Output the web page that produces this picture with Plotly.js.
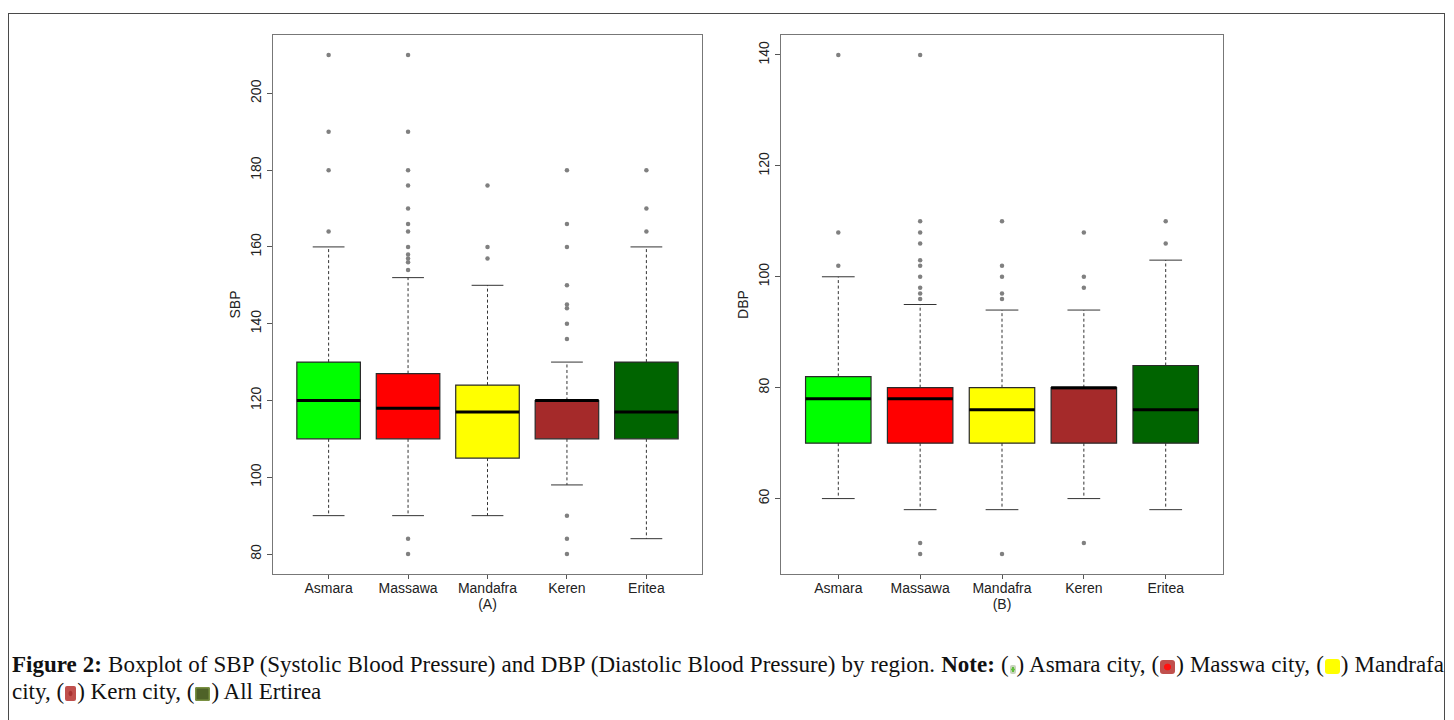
<!DOCTYPE html>
<html>
<head>
<meta charset="utf-8">
<script src="https://cdn.plot.ly/plotly-3.0.1.min.js"></script>
<style>
  html, body { margin:0; padding:0; background:#fff; width:1454px; height:720px; overflow:hidden; }
  #frame { position:absolute; left:8px; top:13px; width:1437px; height:800px; border:1.5px solid #4a4a4a; border-bottom:none; box-sizing:border-box; }
  #plot { position:absolute; left:0; top:0; width:1454px; height:720px; }
  .cap { position:absolute; left:12px; width:1432px; font-family:"Liberation Serif","Times New Roman",serif; font-size:23px; line-height:26px; color:#111; white-space:nowrap; }
  #cap1 { top:652px; text-align:justify; text-align-last:justify; white-space:normal; }
  #cap2 { top:679px; }
  .sw { display:inline-block; vertical-align:-2px; margin:0 1px; }
  .s1 { width:6px; height:9px; border-radius:2px; background: radial-gradient(#5fbf3a 35%, #c8d3bc 40%); }
  .s2 { width:15px; height:14px; border-radius:3px; background: radial-gradient(#ff1010 30%, #c0504d 38%); }
  .s3 { width:15px; height:15px; background:#ffff00; border-radius:3px; }
  .s4 { width:11px; height:15px; border-radius:2px; background: radial-gradient(#a83232 20%, #c0504d 30%); }
  .s5 { width:15px; height:14px; background:#4f6228; border-radius:2px; box-shadow: inset 0 0 0 1.5px #7a9142; }
</style>
</head>
<body>
<div id="plot"></div>
<div id="frame"></div>
<div class="cap" id="cap1"><b>Figure 2:</b> Boxplot of SBP (Systolic Blood Pressure) and DBP (Diastolic Blood Pressure) by region. <b>Note:</b> (<span class="sw s1"></span>) Asmara city, (<span class="sw s2"></span>) Masswa city, (<span class="sw s3"></span>) Mandrafa</div>
<div class="cap" id="cap2">city, (<span class="sw s4"></span>) Kern city, (<span class="sw s5"></span>) All Ertirea</div>
<script>
// ---- data ----
const regions = ["Asmara", "Massawa", "Mandafra", "Keren", "Eritea"];

const sbpQ1   = [110, 110, 105, 110, 110];
const sbpMed  = [120, 118, 117, 120, 117];
const sbpQ3   = [130, 127, 124, 120, 130];
const sbpLow  = [90, 90, 90, 98, 84];
const sbpHigh = [160, 152, 150, 130, 160];
const sbpOut  = [
  [164, 180, 190, 210],
  [80, 84, 154, 156, 157, 158, 160, 164, 166, 170, 176, 180, 190, 210],
  [157, 160, 176],
  [80, 84, 90, 136, 140, 144, 145, 150, 160, 166, 180],
  [164, 170, 180]
];

const dbpQ1   = [70, 70, 70, 70, 70];
const dbpMed  = [78, 78, 76, 80, 76];
const dbpQ3   = [82, 80, 80, 80, 84];
const dbpLow  = [60, 58, 58, 60, 58];
const dbpHigh = [100, 95, 94, 94, 103];
const dbpOut  = [
  [102, 108, 140],
  [50, 52, 96, 97, 98, 100, 102, 103, 106, 108, 110, 140],
  [50, 96, 97, 100, 102, 110],
  [52, 98, 100, 108],
  [106, 110]
];

const sbpTicks = [80, 100, 120, 140, 160, 180, 200];
const dbpTicks = [60, 80, 100, 120, 140];

// ---- styles ----
const fills = ["#00ff00", "#ff0000", "#ffff00", "#a52a2a", "#006400"];
const BOXW = 0.8, CAPW = 0.4;

function panel(q1, med, q3, lo, hi, out, xa, ya) {
  const traces = [];
  const pos = regions.map((r, i) => i + 1);
  pos.forEach((p, i) => {
    traces.push({
      type: "box", x: [p], q1: [q1[i]], median: [med[i]], q3: [q3[i]],
      lowerfence: [q1[i]], upperfence: [q3[i]], width: BOXW, whiskerwidth: 0,
      fillcolor: fills[i], line: { color: "#2a2a2a", width: 1.2 },
      boxpoints: false, hoverinfo: "skip", showlegend: false, xaxis: xa, yaxis: ya
    });
  });
  const wx = [], wy = [], cx = [], cy = [], mx = [], my = [], ox = [], oy = [];
  pos.forEach((p, i) => {
    wx.push(p, p, null, p, p, null);
    wy.push(q3[i], hi[i], null, q1[i], lo[i], null);
    cx.push(p - CAPW / 2, p + CAPW / 2, null, p - CAPW / 2, p + CAPW / 2, null);
    cy.push(hi[i], hi[i], null, lo[i], lo[i], null);
    mx.push(p - BOXW / 2, p + BOXW / 2, null);
    my.push(med[i], med[i], null);
    out[i].forEach(v => { ox.push(p); oy.push(v); });
  });
  traces.push({ type: "scatter", mode: "lines", x: wx, y: wy, line: { color: "#333", width: 1, dash: "3px,2.5px" }, hoverinfo: "skip", showlegend: false, xaxis: xa, yaxis: ya });
  traces.push({ type: "scatter", mode: "lines", x: cx, y: cy, line: { color: "#333", width: 1 }, hoverinfo: "skip", showlegend: false, xaxis: xa, yaxis: ya });
  traces.push({ type: "scatter", mode: "lines", x: mx, y: my, line: { color: "#000", width: 3 }, hoverinfo: "skip", showlegend: false, xaxis: xa, yaxis: ya });
  traces.push({ type: "scatter", mode: "markers", x: ox, y: oy, marker: { color: "#808080", size: 4.5 }, hoverinfo: "skip", showlegend: false, xaxis: xa, yaxis: ya });
  return traces;
}

const data = [].concat(
  panel(sbpQ1, sbpMed, sbpQ3, sbpLow, sbpHigh, sbpOut, "x", "y"),
  panel(dbpQ1, dbpMed, dbpQ3, dbpLow, dbpHigh, dbpOut, "x2", "y2")
);

const tickFont = { family: "Liberation Sans, Arial, sans-serif", size: 14, color: "#222" };
function xAxis(domain, label, anchor) {
  return {
    domain: domain, anchor: anchor, range: [0.3, 5.7],
    tickmode: "array", tickvals: regions.map((r, i) => i + 1), ticktext: regions,
    ticks: "outside", ticklen: 4, tickcolor: "#555", tickwidth: 1, ticklabelstandoff: -3,
    showline: true, mirror: true, linecolor: "#777", linewidth: 1.3,
    showgrid: false, zeroline: false, fixedrange: true,
    tickfont: tickFont,
    title: { text: label, font: tickFont, standoff: 0 }
  };
}
function yAxis(domain, range, ticks, label, anchor) {
  return {
    domain: domain, anchor: anchor, range: range,
    tickmode: "array", tickvals: ticks, ticktext: ticks.map(String), tickangle: -90,
    ticks: "outside", ticklen: 5, tickcolor: "#555", tickwidth: 1,
    showline: true, mirror: true, linecolor: "#777", linewidth: 1.3,
    showgrid: false, zeroline: false, fixedrange: true,
    tickfont: tickFont,
    title: { text: label, font: tickFont, standoff: 4 }
  };
}

const yDom = [1 - 574 / 720, 1 - 35 / 720];
const layout = {
  width: 1454, height: 720,
  margin: { l: 0, r: 0, t: 0, b: 0 },
  paper_bgcolor: "rgba(0,0,0,0)", plot_bgcolor: "#fff",
  showlegend: false,
  xaxis: xAxis([273 / 1454, 702 / 1454], "(A)", "y"),
  yaxis: yAxis(yDom, [74.8, 215.2], sbpTicks, "SBP", "x"),
  xaxis2: xAxis([781 / 1454, 1223 / 1454], "(B)", "y2"),
  yaxis2: yAxis(yDom, [46.4, 143.6], dbpTicks, "DBP", "x2")
};

Plotly.newPlot("plot", data, layout, { displayModeBar: false, staticPlot: true });
</script>
</body>
</html>
